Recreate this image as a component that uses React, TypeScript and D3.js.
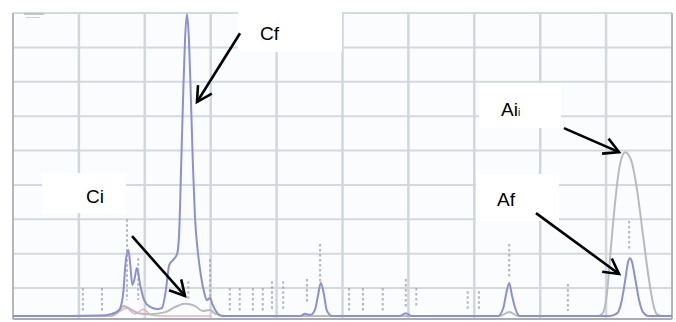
import React from 'react'
import * as d3 from 'd3'

const width = 676
const height = 322

// axis ticks (retention time in min, signal in arbitrary units)
const timeTicks = [0, 1, 2, 3, 4, 5, 6, 7, 8, 9, 10]
const signalTicks = [0, 1, 2, 3, 4, 5, 6, 7, 8]

// blue trace (final sample)
const blueTrace: [number, number][] = [
  [0, -0.81], [0.71, -0.81], [1.32, -0.8], [1.5, -0.75], [1.61, -0.64], [1.67, -0.2],
  [1.71, 0.76], [1.75, 1.11], [1.78, 0.67], [1.81, 0.09], [1.84, 0.23], [1.88, 0.58],
  [1.93, 0.09], [1.99, -0.35], [2.08, -0.55], [2.19, -0.61], [2.26, -0.58], [2.32, -0.06],
  [2.37, 0.67], [2.43, 0.82], [2.49, 0.99], [2.52, 1.54], [2.55, 3.43], [2.58, 5.47],
  [2.61, 7.21], [2.64, 7.97], [2.67, 7.21], [2.7, 5.47], [2.73, 3.58], [2.76, 2.12],
  [2.81, 0.96], [2.85, 0.38], [2.9, -0.12], [2.94, -0.35], [2.99, -0.29], [3.03, -0.49],
  [3.1, -0.73], [3.17, -0.81], [4.36, -0.81], [4.43, -0.75], [4.51, -0.78], [4.58, -0.64],
  [4.63, -0.2], [4.67, 0.15], [4.72, -0.2], [4.76, -0.64], [4.84, -0.81], [5.87, -0.81],
  [5.96, -0.73], [6.05, -0.81], [7.36, -0.81], [7.44, -0.58], [7.48, -0.2], [7.53, 0.15],
  [7.57, -0.2], [7.62, -0.58], [7.69, -0.81], [9.06, -0.81], [9.17, -0.73], [9.23, -0.43],
  [9.29, 0.23], [9.33, 0.73], [9.36, 0.87], [9.39, 0.78], [9.44, 0.29], [9.5, -0.35],
  [9.56, -0.7], [9.64, -0.81], [10, -0.81],
]

// gray trace (initial sample)
const grayTrace: [number, number][] = [
  [0, -0.81], [1.47, -0.81], [1.59, -0.7], [1.68, -0.52], [1.78, -0.61], [1.9, -0.73],
  [2.08, -0.76], [2.31, -0.7], [2.46, -0.55], [2.61, -0.46], [2.76, -0.52], [2.88, -0.67],
  [2.99, -0.64], [3.08, -0.76], [3.22, -0.81], [7.39, -0.81], [7.53, -0.7], [7.66, -0.81],
  [8.88, -0.81], [8.95, -0.73], [9.01, -0.2], [9.07, 1.11], [9.14, 2.56], [9.2, 3.49],
  [9.29, 3.95], [9.38, 3.72], [9.47, 2.85], [9.56, 1.54], [9.64, 0.38], [9.71, -0.43],
  [9.77, -0.76], [9.85, -0.81], [10, -0.81],
]

// faint pink trace (only visible near the early peaks)
const pinkTrace: [number, number][] = [
  [1.3, -0.81], [1.5, -0.81], [1.62, -0.68], [1.72, -0.58], [1.85, -0.75], [1.98, -0.62],
  [2.1, -0.79], [2.3, -0.81], [3.0, -0.81],
]

// peak label markers: [time, top, bottom]
const peakMarks: [number, number, number][] = [
  [1.06, 0, -0.67], [1.35, 0, -0.67], [1.73, 2.0, -0.35], [1.9, 0.87, -0.35],
  [2.66, 0.2, -0.35], [2.99, 0.84, -0.35], [3.29, 0, -0.67], [3.44, 0, -0.67],
  [3.64, 0, -0.67], [3.79, 0, -0.67], [3.93, 0.2, -0.67], [4.1, 0.2, -0.67],
  [4.46, 0.26, -0.46], [4.66, 1.28, 0.12], [5.1, 0, -0.67], [5.31, 0, -0.67],
  [5.61, 0, -0.67], [5.96, 0.26, -0.58], [6.12, 0, -0.58], [6.9, -0.09, -0.67],
  [7.07, -0.09, -0.67], [7.53, 1.28, 0.29], [8.42, 0.12, -0.67], [9.35, 1.95, 1.08],
]

const labels = ['Cf', 'Ai', 'Af', 'Ci']

// annotation layout: box + text in px, arrow tail/tip in data units
const annotations = [
  { box: [238, 0, 104, 52], text: [260, 40], from: [3.445, 7.41], to: [2.792, 5.41] },
  { box: [479, 83, 82, 45], text: [501, 116], from: [8.36, 4.65], to: [9.196, 3.955] },
  { box: [476, 174, 83, 47], text: [497, 206], from: [7.936, 2.18], to: [9.196, 0.41] },
  { box: [42, 173, 84, 40], text: [86, 203], from: [1.806, 1.51], to: [2.61, -0.23] },
]

const x = d3.scaleLinear().domain([0, 10]).range([13, 672])
const y = d3.scaleLinear().domain([-0.9, 8]).range([319, 13])

const line = d3.line<[number, number]>()
  .x(d => x(d[0]))
  .y(d => y(d[1]))
  .curve(d3.curveMonotoneX)

function Arrow ({ from, to }: { from: number[], to: number[] }) {
  const x1 = x(from[0]), y1 = y(from[1]), x2 = x(to[0]), y2 = y(to[1])
  const a = Math.atan2(y2 - y1, x2 - x1)
  const len = 17, spread = 0.5
  const h1 = [x2 - len * Math.cos(a - spread), y2 - len * Math.sin(a - spread)]
  const h2 = [x2 - len * Math.cos(a + spread), y2 - len * Math.sin(a + spread)]
  return (
    <g stroke="#000" strokeWidth={2.6} fill="none" strokeLinecap="butt">
      <line x1={x1} y1={y1} x2={x2} y2={y2} />
      <polyline points={`${h1[0]},${h1[1]} ${x2},${y2} ${h2[0]},${h2[1]}`} strokeLinejoin="miter" />
    </g>
  )
}

export default function App () {
  return (
    <svg width={width} height={height} style={{ position: 'absolute', left: 0, top: 0, background: '#fff' }}
      fontFamily="Arial, 'Liberation Sans', sans-serif">
      <rect x={x(0)} y={y(8)} width={x(10) - x(0)} height={y(-0.9) - y(8)} fill="#fbfcfd" />
      {/* grid */}
      {signalTicks.map(t => (
        <line key={'h' + t} x1={x(0)} x2={x(10)} y1={y(t)} y2={y(t)} stroke="#d5d9dd" strokeWidth={2} />
      ))}
      {timeTicks.map(t => (
        <line key={'v' + t} x1={x(t)} x2={x(t)} y1={y(8)} y2={y(-0.9)}
          stroke={t === 0 || t === 10 ? '#b4b6ba' : '#d3d6da'} strokeWidth={t === 0 || t === 10 ? 2 : 2.5} />
      ))}
      <line x1={x(0)} x2={x(10)} y1={y(-0.9)} y2={y(-0.9)} stroke="#a9acb3" strokeWidth={2} />
      {/* small legend mark at top left */}
      <line x1={24} x2={44} y1={14} y2={14} stroke="#b8b8b8" strokeWidth={1.5} />
      <line x1={26} x2={40} y1={17.5} y2={17.5} stroke="#d0d0d0" strokeWidth={1} />
      {/* peak markers */}
      {peakMarks.map((m, i) => (
        <line key={'m' + i} x1={x(m[0])} x2={x(m[0])} y1={y(m[1])} y2={y(m[2])}
          stroke="#9d9fac" strokeWidth={2} strokeDasharray="2.5,2.5" opacity={0.75} />
      ))}
      {/* traces */}
      <path d={line(pinkTrace) || ''} fill="none" stroke="#e6b4bc" strokeWidth={1.5} />
      <path d={line(grayTrace) || ''} fill="none" stroke="#b9babd" strokeWidth={2} />
      <path d={line(blueTrace) || ''} fill="none" stroke="#8c90cc" strokeWidth={2} />
      {/* annotations */}
      {annotations.map((a, i) => (
        <g key={'a' + i}>
          <rect x={a.box[0]} y={a.box[1]} width={a.box[2]} height={a.box[3]} fill="#fff" />
          <text x={a.text[0]} y={a.text[1]} fontSize={19} fill="#000">
            {labels[i]}
            {labels[i] === 'Ai' ? <tspan fontSize={10}>i</tspan> : null}
          </text>
          <Arrow from={a.from} to={a.to} />
        </g>
      ))}
    </svg>
  )
}
